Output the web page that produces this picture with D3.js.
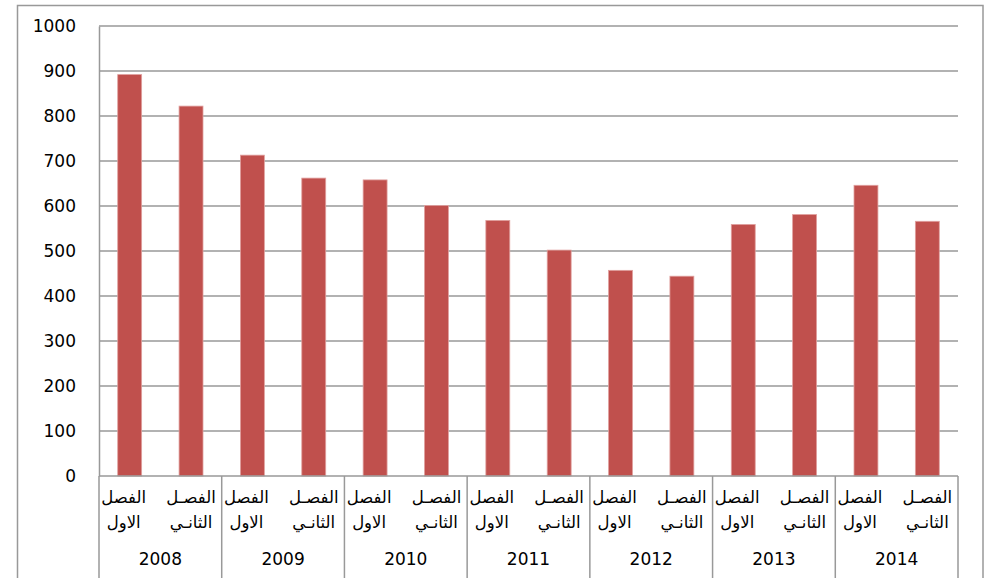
<!DOCTYPE html>
<html>
<head>
<meta charset="utf-8">
<script src="https://cdn.jsdelivr.net/npm/d3@7"></script>
<style>
  body { margin: 0; background: #fff; }
  text { font-family: "DejaVu Sans", Verdana, sans-serif; fill: #000; }
</style>
</head>
<body>
<script>
// data
var years = ["2008", "2009", "2010", "2011", "2012", "2013", "2014"];
var semesters = [["الفصل", "الاول"], ["الفصـل", "الثانـي"]];
var values = [892, 822, 713, 662, 658, 601, 568, 502, 457, 444, 559, 581, 646, 566];
var yTicks = [0, 100, 200, 300, 400, 500, 600, 700, 800, 900, 1000];

var W = 991, H = 578;
var margin = {top: 26, right: 33, bottom: 102, left: 99},
    width = W - margin.left - margin.right,
    height = H - margin.top - margin.bottom;

var svg = d3.select("body").append("svg")
    .attr("width", W)
    .attr("height", H);

// outer chart frame
svg.append("rect")
    .attr("x", 17.5).attr("y", 5.5)
    .attr("width", 983 - 17.5).attr("height", H)
    .attr("fill", "none")
    .attr("stroke", "#999")
    .attr("stroke-width", 1.5);

var g = svg.append("g")
    .attr("transform", "translate(" + margin.left + "," + margin.top + ")");

var cats = [];
years.forEach(function(y) {
    semesters.forEach(function(s, j) { cats.push({year: y, sem: j}); });
});

var x = d3.scaleBand().domain(d3.range(cats.length)).range([0, width]).paddingInner(0.61).paddingOuter(0.305);
var xg = d3.scaleBand().domain(years).range([0, width]);
var y = d3.scaleLinear().domain([0, 1000]).range([height, 0]);

// gridlines
g.append("g").selectAll("line.grid").data(yTicks.slice(1)).enter()
    .append("line")
    .attr("class", "grid")
    .attr("x1", 0).attr("x2", width)
    .attr("y1", d => y(d)).attr("y2", d => y(d))
    .attr("stroke", "#999")
    .attr("stroke-width", 1.5);

// y axis
var yAxis = d3.axisLeft(y).tickValues(yTicks).tickFormat(d3.format("d")).tickSize(0).tickPadding(23);
var ya = g.append("g").attr("class", "y axis").call(yAxis);
ya.select(".domain").attr("stroke", "#999").attr("stroke-width", 1.5);
ya.selectAll("text").attr("font-size", 17).attr("font-family", "DejaVu Sans, Verdana, sans-serif");

// bars
g.append("g").selectAll("rect.bar").data(values).enter()
    .append("rect")
    .attr("class", "bar")
    .attr("x", (d, i) => x(i))
    .attr("y", d => y(d))
    .attr("width", x.bandwidth())
    .attr("height", d => height - y(d))
    .attr("fill", "#c0504d")
    .attr("stroke", "#e0a09e")
    .attr("stroke-width", 0.8);

// bottom axis line
g.append("line")
    .attr("x1", 0).attr("x2", width)
    .attr("y1", height).attr("y2", height)
    .attr("stroke", "#999").attr("stroke-width", 1.5);

// group separators
var seps = years.map(yr => xg(yr)).concat([width]);
g.append("g").selectAll("line.sep").data(seps).enter()
    .append("line")
    .attr("x1", d => d).attr("x2", d => d)
    .attr("y1", height).attr("y2", H)
    .attr("stroke", "#999").attr("stroke-width", 1.5);

// semester labels
var step = width / cats.length;
var labX = (d, i) => step * (i + 0.5) + (d.sem === 0 ? -6 : 0);
var lab = g.append("g").selectAll("text.sem").data(cats).enter()
    .append("text")
    .attr("class", "sem")
    .attr("text-anchor", "middle")
    .attr("font-size", 16.5)
    .attr("x", labX);
lab.append("tspan")
    .attr("y", height + 27)
    .text(d => semesters[d.sem][0]);
lab.append("tspan")
    .attr("x", labX)
    .attr("y", height + 52)
    .text(d => semesters[d.sem][1]);

// year labels
g.append("g").selectAll("text.year").data(years).enter()
    .append("text")
    .attr("class", "year")
    .attr("text-anchor", "middle")
    .attr("font-size", 17)
    .attr("x", d => xg(d) + xg.bandwidth() / 2)
    .attr("y", height + 89)
    .text(d => d);
</script>
</body>
</html>
